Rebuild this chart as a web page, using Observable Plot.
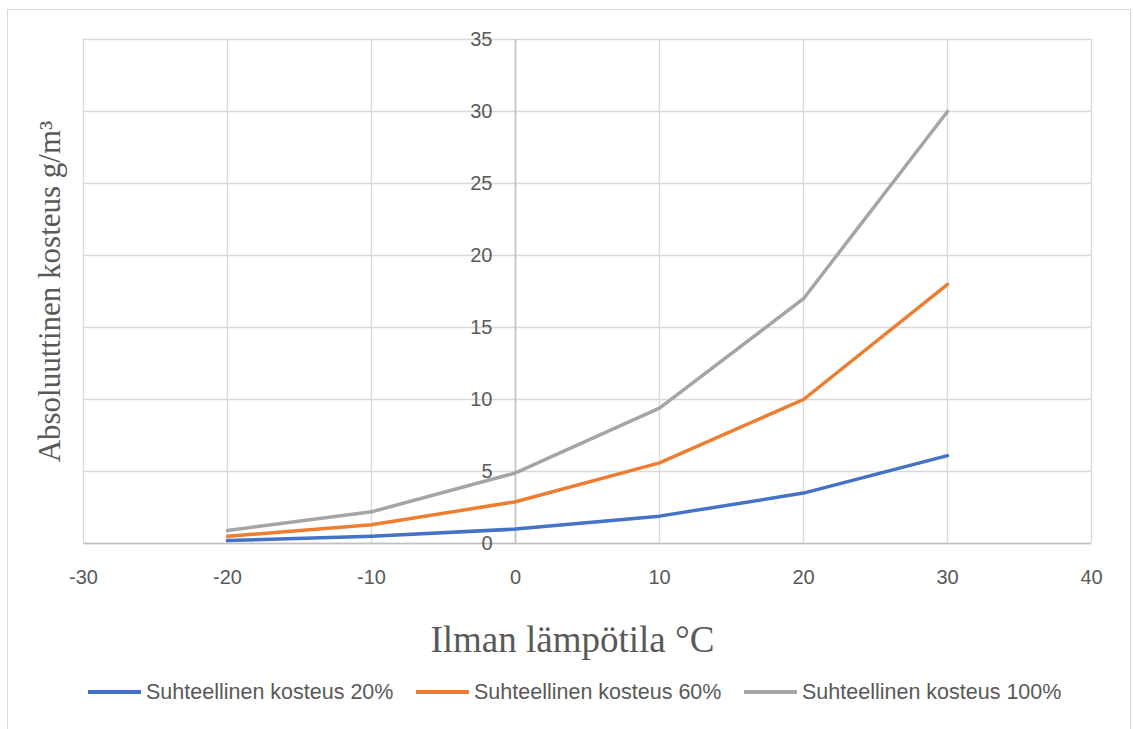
<!DOCTYPE html>
<html><head><meta charset="utf-8">
<script src="https://cdn.jsdelivr.net/npm/d3@7"></script>
<script src="https://cdn.jsdelivr.net/npm/@observablehq/plot@0.6"></script>
<style>
body{margin:0;background:#fff;width:1133px;height:729px;overflow:hidden;position:relative;font-family:"Liberation Sans",Arial,sans-serif;}
#border{position:absolute;left:7px;top:9px;width:1124px;height:760px;border:1.5px solid #d9d9d9;box-sizing:border-box;}
#chart{position:absolute;left:0;top:0;}
#legend{position:absolute;top:677px;left:0;width:1133px;height:30px;}
.item{position:absolute;top:0;display:flex;align-items:center;height:30px;font-size:21.5px;color:#595959;white-space:nowrap;}
.sw{width:53px;height:4px;margin-right:5px;}
</style></head><body>
<div id="border"></div><div id="chart"></div><div id="legend"></div>
<script>
const temperatures = [-20, -10, 0, 10, 20, 30];
const rh20  = [0.2, 0.5, 1.0, 1.9, 3.5, 6.1];
const rh60  = [0.5, 1.3, 2.9, 5.6, 10.0, 18.0];
const rh100 = [0.9, 2.2, 4.9, 9.4, 17.0, 30.0];
const seriesNames = ["Suhteellinen kosteus 20%", "Suhteellinen kosteus 60%", "Suhteellinen kosteus 100%"];
const seriesColors = ["#4472C4", "#ED7D31", "#A5A5A5"];
const xTicks = [-30, -20, -10, 0, 10, 20, 30, 40];
const yTicks = [0, 5, 10, 15, 20, 25, 30, 35];
const xTitle = "Ilman lämpötila °C";
const yTitle = "Absoluuttinen kosteus g/m³";

const seriesValues = [rh20, rh60, rh100];
const rows = seriesValues.map((vals, k) => temperatures.map((t, i) => ({t, v: vals[i], s: seriesNames[k]})));

const plot = Plot.plot({
  width: 1133,
  height: 665,
  marginLeft: 83,
  marginRight: 42,
  marginTop: 39,
  marginBottom: 122,
  x: {domain: [-30, 40], axis: null},
  y: {domain: [0, 35], axis: null},
  style: {background: "transparent", overflow: "visible"},
  marks: [
    Plot.gridX(xTicks, {stroke: "#d9d9d9", strokeOpacity: 1, strokeWidth: 1.3}),
    Plot.gridY(yTicks, {stroke: "#d9d9d9", strokeOpacity: 1, strokeWidth: 1.3}),
    Plot.ruleX([0], {stroke: "#bfbfbf", strokeWidth: 1.5}),
    Plot.ruleY([0], {stroke: "#bfbfbf", strokeWidth: 1.5}),
    Plot.text(yTicks, {x: 0, y: d => d, text: d => String(d), textAnchor: "end", dx: -23, fontSize: 20, fill: "#595959", fontFamily: "Liberation Sans, Arial, sans-serif"}),
    Plot.text(xTicks, {x: d => d, y: 0, text: d => String(d), dy: 34, fontSize: 20, fill: "#595959", fontFamily: "Liberation Sans, Arial, sans-serif"}),
    ...rows.map((r, k) => Plot.line(r, {x: "t", y: "v", stroke: seriesColors[k], strokeWidth: 3.5, strokeLinejoin: "round", strokeLinecap: "round"})),
    Plot.text([xTitle], {frameAnchor: "bottom", text: d => d, textAnchor: "middle", lineAnchor: "middle", dy: 97, dx: -15, fontSize: 37, fill: "#595959", fontFamily: "Liberation Serif, Times New Roman, serif"}),
    Plot.text([yTitle], {frameAnchor: "left", text: d => d, textAnchor: "middle", lineAnchor: "middle", rotate: -90, dx: -33, fontSize: 31, fill: "#595959", fontFamily: "Liberation Serif, Times New Roman, serif"})
  ]
});
document.getElementById("chart").appendChild(plot);

const legendLeft = [88, 416, 744];
const legend = document.getElementById("legend");
seriesNames.forEach((name, k) => {
  const item = document.createElement("div");
  item.className = "item";
  item.style.left = legendLeft[k] + "px";
  const sw = document.createElement("span");
  sw.className = "sw";
  sw.style.background = seriesColors[k];
  const tx = document.createElement("span");
  tx.textContent = name;
  item.appendChild(sw); item.appendChild(tx);
  legend.appendChild(item);
});
</script>
</body></html>
